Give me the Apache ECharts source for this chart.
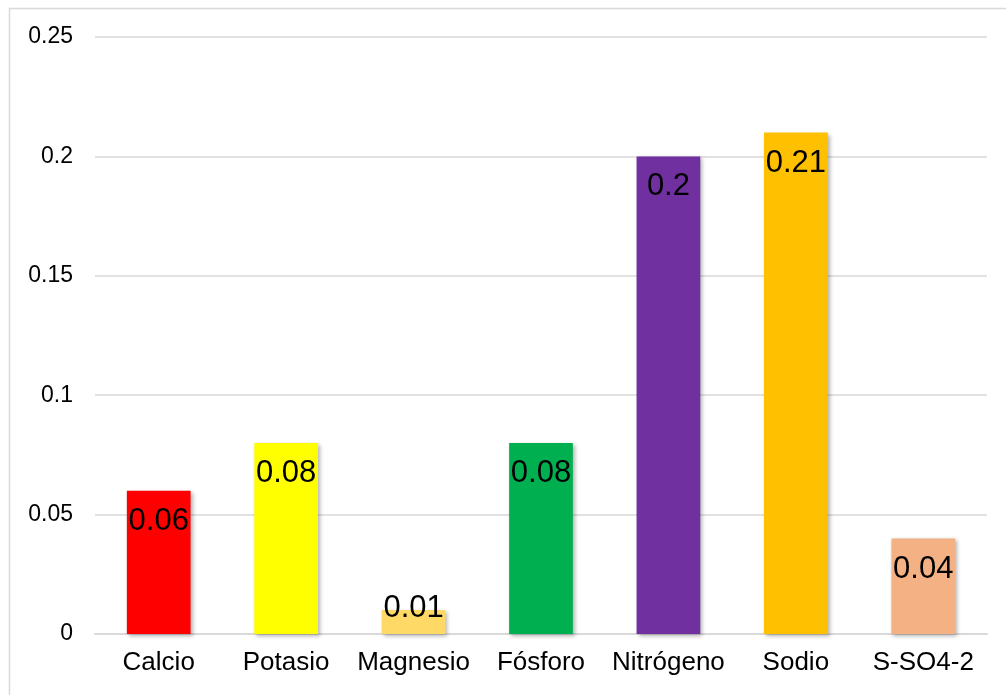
<!DOCTYPE html>
<html>
<head>
<meta charset="utf-8">
<script src="https://cdn.jsdelivr.net/npm/echarts@6/dist/echarts.min.js"></script>
<style>
  html, body { margin: 0; padding: 0; background: #fff; }
  #main { width: 1006px; height: 695px; }
</style>
</head>
<body>
<div id="main"></div>
<script>
var categories = ['Calcio', 'Potasio', 'Magnesio', 'Fósforo', 'Nitrógeno', 'Sodio', 'S-SO4-2'];
var values = [0.06, 0.08, 0.01, 0.08, 0.2, 0.21, 0.04];
var barColors = ['#FF0000', '#FFFF00', '#FFD966', '#00B050', '#7030A0', '#FFC000', '#F4B183'];

document.addEventListener('DOMContentLoaded', function () {
    var myChart = echarts.init(document.getElementById('main'));

    var data = values.map(function (v, i) {
        var item = {
            value: v,
            itemStyle: { color: barColors[i] }
        };
        // small bar: label sits over the top edge
        if (v < 0.02) {
            item.label = { position: 'top', distance: -14 };
        }
        return item;
    });

    var option = {
        animation: false,
        backgroundColor: '#fff',
        graphic: [{
            type: 'rect',
            shape: { x: 9.5, y: 8.5, width: 1200, height: 900 },
            style: { fill: 'none', stroke: '#d9d9d9', lineWidth: 1.5 },
            silent: true
        }],
        grid: { left: 95, right: 19, top: 37, bottom: 61 },
        xAxis: {
            type: 'category',
            data: categories,
            axisLine: { lineStyle: { color: '#d9d9d9', width: 2 } },
            axisTick: { show: false },
            axisLabel: {
                interval: 0,
                hideOverlap: false,
                color: '#000',
                fontFamily: 'Liberation Sans',
                fontSize: 26,
                margin: 16
            }
        },
        yAxis: {
            type: 'value',
            min: 0,
            max: 0.25,
            interval: 0.05,
            axisLine: { show: false },
            axisTick: { show: false },
            splitLine: { lineStyle: { color: '#d9d9d9', width: 1.5 } },
            axisLabel: {
                color: '#000',
                fontFamily: 'Liberation Sans',
                fontSize: 23,
                margin: 22
            }
        },
        series: [{
            type: 'bar',
            data: data,
            barWidth: '50%',
            itemStyle: {
                shadowColor: 'rgba(0,0,0,0.3)',
                shadowBlur: 4,
                shadowOffsetX: 2,
                shadowOffsetY: 2
            },
            label: {
                show: true,
                position: 'insideTop',
                distance: 15,
                color: '#000',
                fontFamily: 'Liberation Sans',
                fontSize: 31
            }
        }]
    };

    myChart.setOption(option);
});
</script>
</body>
</html>
